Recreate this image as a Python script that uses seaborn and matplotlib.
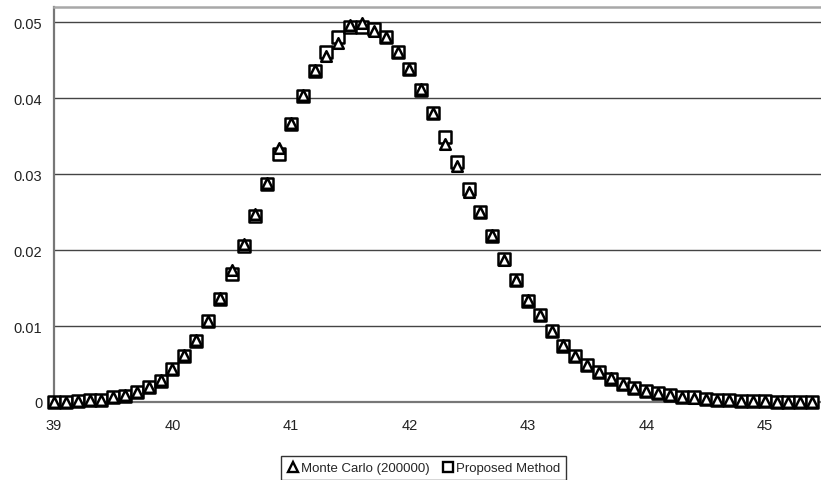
import numpy as np
import pandas as pd
import matplotlib
matplotlib.use("Agg")
import matplotlib.pyplot as plt
import seaborn as sns
from matplotlib.lines import Line2D

sns.set_theme(style="white")
plt.rcParams['font.family'] = ['Liberation Sans', 'DejaVu Sans']

x_values = [round(39.0 + 0.1 * i, 1) for i in range(65)]

proposed = [0.0000, 0.0000, 0.0001, 0.0002, 0.0003, 0.0006, 0.0008, 0.0013, 0.0020, 0.0028,
            0.0043, 0.0061, 0.0080, 0.0106, 0.0136, 0.0169, 0.0206, 0.0245, 0.0287, 0.0327,
            0.0366, 0.0403, 0.0436, 0.0461, 0.0480, 0.0494, 0.0494, 0.0491, 0.0480, 0.0461,
            0.0438, 0.0411, 0.0381, 0.0349, 0.0316, 0.0281, 0.0250, 0.0219, 0.0188, 0.0160,
            0.0133, 0.0114, 0.0094, 0.0074, 0.0061, 0.0049, 0.0039, 0.0030, 0.0024, 0.0019,
            0.0015, 0.0012, 0.0009, 0.0007, 0.0006, 0.0004, 0.0003, 0.0002, 0.0001, 0.0001,
            0.0001, 0.0000, 0.0000, 0.0000, 0.0000]

monte_carlo = [0.0000, 0.0000, 0.0001, 0.0002, 0.0003, 0.0006, 0.0009, 0.0013, 0.0020, 0.0029,
               0.0044, 0.0062, 0.0081, 0.0107, 0.0137, 0.0174, 0.0208, 0.0247, 0.0288, 0.0334,
               0.0367, 0.0404, 0.0437, 0.0456, 0.0472, 0.0496, 0.0499, 0.0489, 0.0480, 0.0461,
               0.0438, 0.0412, 0.0381, 0.0340, 0.0311, 0.0277, 0.0250, 0.0220, 0.0187, 0.0161,
               0.0134, 0.0114, 0.0094, 0.0075, 0.0061, 0.0049, 0.0039, 0.0031, 0.0024, 0.0019,
               0.0015, 0.0012, 0.0009, 0.0007, 0.0005, 0.0004, 0.0003, 0.0002, 0.0001, 0.0001,
               0.0001, 0.0000, 0.0000, 0.0000, 0.0000]

x_ticks = [39, 40, 41, 42, 43, 44, 45]
y_ticks = [0, 0.01, 0.02, 0.03, 0.04, 0.05]
y_tick_labels = ["0", "0.01", "0.02", "0.03", "0.04", "0.05"]

df = pd.DataFrame({"x": x_values, "proposed": proposed, "mc": monte_carlo})

W, H = 821, 481
fig = plt.figure(figsize=(W / 100, H / 100), dpi=100)
ax = fig.add_axes([54 / W, 1 - 403 / H, (824 - 54) / W, (403 - 8) / H])
ax.set_facecolor("white")

sns.scatterplot(data=df, x="x", y="proposed", marker="s", s=74, color="white",
                edgecolor="black", linewidth=1.8, ax=ax, zorder=3, clip_on=False)
sns.scatterplot(data=df, x="x", y="mc", marker="^", s=58, color="white",
                edgecolor="black", linewidth=1.8, ax=ax, zorder=4, clip_on=False)

ax.set_xlim(39, 45.5)
ax.set_ylim(0, 0.052)
ax.set_xticks(x_ticks)
ax.set_xticklabels([str(t) for t in x_ticks])
ax.set_yticks(y_ticks)
ax.set_yticklabels(y_tick_labels)
ax.set_xlabel("")
ax.set_ylabel("")

ax.yaxis.grid(True, color="#444444", linewidth=1.0)
ax.xaxis.grid(False)
ax.set_axisbelow(True)

for side in ["left", "bottom"]:
    ax.spines[side].set_color("#777777")
    ax.spines[side].set_linewidth(1.6)
ax.spines["top"].set_color("#a8a8a8")
ax.spines["top"].set_linewidth(1.8)
ax.spines["right"].set_visible(False)

ax.tick_params(axis="both", which="major", labelsize=10.5, colors="#222222",
               length=3.5, width=1.2, direction="out")
ax.tick_params(axis="y", pad=5)
ax.tick_params(axis="x", pad=8)
ax.tick_params(axis="both", color="#777777")

handles = [
    Line2D([], [], linestyle="none", marker="^", markersize=7, markerfacecolor="white",
           markeredgecolor="black", markeredgewidth=1.7, label="Monte Carlo (200000)"),
    Line2D([], [], linestyle="none", marker="s", markersize=7.5, markerfacecolor="white",
           markeredgecolor="black", markeredgewidth=1.7, label="Proposed Method"),
]
leg = fig.legend(handles=handles, loc="upper center", bbox_to_anchor=(0.516, 1 - 457 / H),
                 ncol=2, frameon=True, fancybox=False, fontsize=9.5, handlelength=0.8,
                 handletextpad=0.2, columnspacing=1.0, borderpad=0.45, borderaxespad=0)
leg.get_frame().set_edgecolor("black")
leg.get_frame().set_linewidth(1.0)

fig.savefig("out.png", dpi=100)
